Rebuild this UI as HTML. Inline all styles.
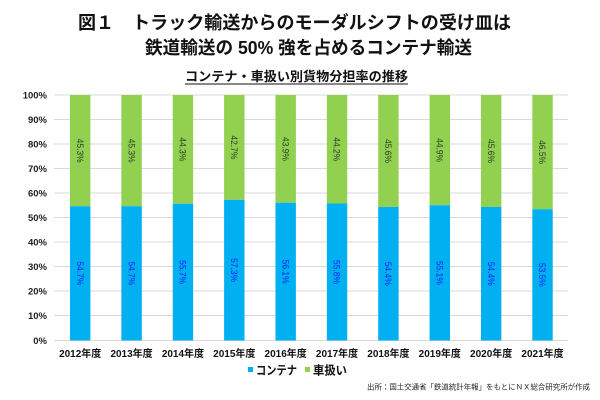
<!DOCTYPE html>
<html><head><meta charset="utf-8"><style>
html,body{margin:0;padding:0;background:#fff;}
svg{display:block;}
text{font-family:"Liberation Sans","Noto Sans CJK JP",sans-serif;}
</style></head><body>
<svg width="600" height="400" viewBox="0 0 600 400" xmlns="http://www.w3.org/2000/svg">
<rect width="600" height="400" fill="#fff"/>
<text x="78" y="29" font-size="18" font-weight="bold" fill="#111" textLength="433" lengthAdjust="spacingAndGlyphs">図１　トラック輸送からのモーダルシフトの受け皿は</text>
<text x="145" y="54" font-size="18" font-weight="bold" fill="#111" textLength="327" lengthAdjust="spacingAndGlyphs">鉄道輸送の 50% 強を占めるコンテナ輸送</text>
<text x="185" y="81" font-size="13" font-weight="bold" fill="#111" textLength="223" lengthAdjust="spacingAndGlyphs">コンテナ・車扱い別貨物分担率の推移</text>
<line x1="185" y1="84" x2="408" y2="84" stroke="#111" stroke-width="1"/>
<g stroke="#d9d9d9" stroke-width="1">
<line x1="54" y1="95" x2="568" y2="95"/>
<line x1="54" y1="119.5" x2="568" y2="119.5"/>
<line x1="54" y1="144" x2="568" y2="144"/>
<line x1="54" y1="168.5" x2="568" y2="168.5"/>
<line x1="54" y1="193" x2="568" y2="193"/>
<line x1="54" y1="217.5" x2="568" y2="217.5"/>
<line x1="54" y1="242" x2="568" y2="242"/>
<line x1="54" y1="266.5" x2="568" y2="266.5"/>
<line x1="54" y1="291" x2="568" y2="291"/>
<line x1="54" y1="315.5" x2="568" y2="315.5"/>
<line x1="54" y1="340.5" x2="568" y2="340.5"/>
</g>
<g font-size="9.5" font-weight="bold" fill="#222" text-anchor="end">
<text x="47" y="98.5">100%</text>
<text x="47" y="123">90%</text>
<text x="47" y="147.5">80%</text>
<text x="47" y="172">70%</text>
<text x="47" y="196.5">60%</text>
<text x="47" y="221">50%</text>
<text x="47" y="245.5">40%</text>
<text x="47" y="270">30%</text>
<text x="47" y="294.5">20%</text>
<text x="47" y="319">10%</text>
<text x="47" y="344">0%</text>
</g>
<g id="bars"></g>
<g font-size="10" font-weight="bold" fill="#111" text-anchor="middle" id="xl"></g>
<rect x="248" y="367" width="5" height="5" fill="#00b0f0"/>
<text x="256" y="374.5" font-size="12" font-weight="bold" fill="#111" textLength="41" lengthAdjust="spacingAndGlyphs">コンテナ</text>
<rect x="305" y="367" width="5" height="5" fill="#92d050"/>
<text x="313" y="374.5" font-size="12" font-weight="bold" fill="#111" textLength="34" lengthAdjust="spacingAndGlyphs">車扱い</text>
<text x="367" y="389.5" font-size="7.4" fill="#222" textLength="223" lengthAdjust="spacingAndGlyphs">出所：国土交通省「鉄道統計年報」をもとにＮＸ総合研究所が作成</text>
<script>
(function(){
var blue=[54.7,54.7,55.7,57.3,56.1,55.8,54.4,55.1,54.4,53.5];
var green=[45.3,45.3,44.3,42.7,43.9,44.2,45.6,44.9,45.6,46.5];
var yrs=["2012","2013","2014","2015","2016","2017","2018","2019","2020","2021"];
var ns="http://www.w3.org/2000/svg";
var g=document.getElementById("bars"), xl=document.getElementById("xl");
var y0=340.5, s=2.455, w=20.4;
function el(n,a,t){var e=document.createElementNS(ns,n);for(var k in a)e.setAttribute(k,a[k]);if(t)e.textContent=t;return e;}
for(var i=0;i<10;i++){
 var cx=80.2+i*51.37;
 var yb=y0-blue[i]*s;
 g.appendChild(el("rect",{x:cx-w/2,y:95,width:w,height:yb-95,fill:"#92d050"}));
 g.appendChild(el("rect",{x:cx-w/2,y:yb,width:w,height:y0-yb,fill:"#00b0f0"}));
 var cg=(95+yb)/2, cb=(yb+y0)/2;
 g.appendChild(el("text",{transform:"translate("+cx+","+cg+") rotate(90)","text-anchor":"middle",y:"3.3","font-size":"9.5",fill:"#2a3a2a",textLength:"24",lengthAdjust:"spacingAndGlyphs"},green[i].toFixed(1)+"%"));
 g.appendChild(el("text",{transform:"translate("+cx+","+cb+") rotate(90)","text-anchor":"middle",y:"3.3","font-size":"9.5",fill:"#0a1eff",textLength:"24",lengthAdjust:"spacingAndGlyphs"},blue[i].toFixed(1)+"%"));
 xl.appendChild(el("text",{x:cx,y:357},yrs[i]+"年度"));
}
})();
</script>
</svg>
</body></html>
